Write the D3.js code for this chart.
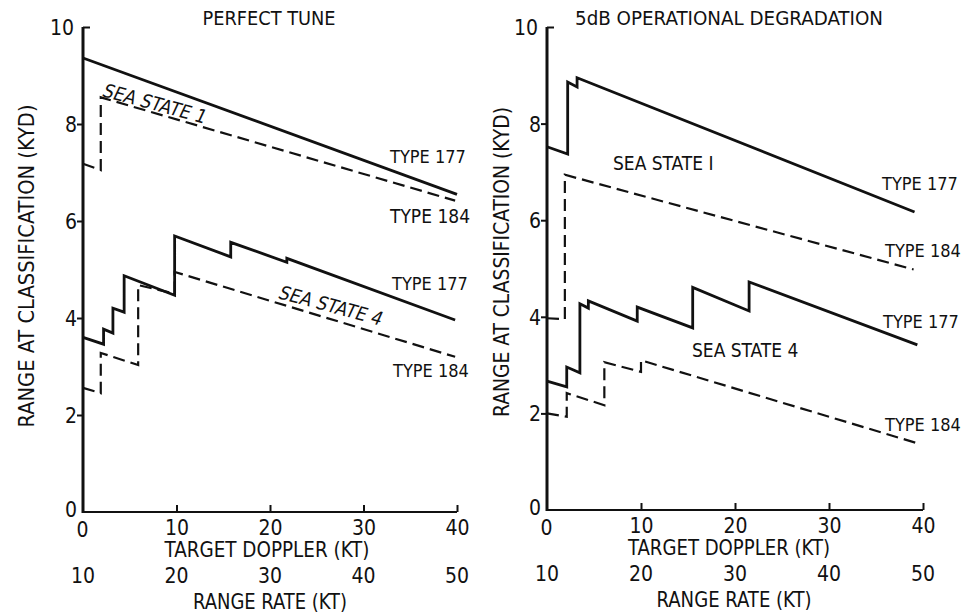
<!DOCTYPE html>
<html><head><meta charset="utf-8">
<script src="https://cdn.jsdelivr.net/npm/d3@7/dist/d3.min.js"></script>
<style>
body{margin:0;background:#fff}
text{font-family:"DejaVu Sans Condensed","Liberation Sans Narrow","Arial Narrow",sans-serif;fill:#111}
</style>
</head><body>
<svg id="c" width="968" height="616"></svg>
<script>
// ---------- data ----------
const dopplerTicks = [0, 10, 20, 30, 40];
const rangeRateTicks = [10, 20, 30, 40, 50];
const yTicks = [0, 2, 4, 6, 8, 10];
const panelTitles = ["PERFECT TUNE", "5dB OPERATIONAL DEGRADATION"];
const xAxisTitle = "TARGET DOPPLER (KT)";
const x2AxisTitle = "RANGE RATE (KT)";
const yAxisTitle = "RANGE AT CLASSIFICATION (KYD)";
const seriesNames = ["TYPE 177", "TYPE 184"];
const seaStateNames = ["SEA STATE 1", "SEA STATE 4"];
const seaStateNamesRight = ["SEA STATE I", "SEA STATE 4"];

// Perfect tune: [target doppler kt, range kyd]
const pt_ss1_177 = [[0,9.36],[40,6.55]];
const pt_ss1_184 = [[0,7.18],[1.9,7.05],[1.9,8.55],[39.8,6.42]];
const pt_ss4_177 = [[0,3.6],[2.2,3.46],[2.2,3.77],[3.2,3.69],[3.2,4.2],[4.4,4.12],[4.4,4.87],[9.8,4.47],[9.8,5.69],[15.8,5.26],[15.8,5.56],[21.8,5.15],[21.8,5.23],[39.8,3.96]];
const pt_ss4_184 = [[0,2.56],[1.9,2.45],[1.9,3.28],[5.9,3.03],[5.9,4.68],[9.8,4.5],[9.8,4.95],[39.8,3.2]];

// 5dB operational degradation
const od_ss1_177 = [[0,7.52],[2.2,7.37],[2.2,8.86],[3.2,8.76],[3.2,8.95],[39.1,6.17]];
const od_ss1_184 = [[0,3.97],[1.9,3.95],[1.9,6.94],[39,4.98]];
const od_ss4_177 = [[0,2.67],[2.1,2.55],[2.1,2.96],[3.5,2.84],[3.5,4.27],[4.4,4.18],[4.4,4.33],[9.6,3.91],[9.6,4.2],[15.5,3.77],[15.5,4.61],[21.5,4.12],[21.5,4.72],[39.4,3.42]];
const od_ss4_184 = [[0,2.0],[2.1,1.93],[2.1,2.42],[6.1,2.17],[6.1,3.06],[10,2.86],[10,3.1],[39.6,1.37]];

// ---------- drawing ----------
const svg = d3.select("#c");
svg.append("rect").attr("width",968).attr("height",616).attr("fill","#fff");

function fit(t, w){ if(w) t.attr("textLength",w).attr("lengthAdjust","spacingAndGlyphs"); return t; }

function panel(cfg){
  const x = d3.scaleLinear().domain([0,40]).range([cfg.x0, cfg.x1]);
  const y = d3.scaleLinear().domain([0,10]).range([cfg.y0, cfg.y1]);
  const g = svg.append("g");
  const fs = 21;

  // y axis
  const ya = g.append("g").attr("transform",`translate(${cfg.x0},0)`)
    .call(d3.axisLeft(y).tickValues(yTicks).tickSize(6).tickSizeOuter(0));
  ya.select(".domain").remove();
  ya.selectAll(".tick line").attr("stroke","#111").attr("stroke-width",2)
    .filter(d=>d===10).attr("x2",7);
  ya.selectAll(".tick line").filter(d=>d===0).remove();
  ya.selectAll(".tick text").attr("font-size",fs).attr("x",d=>d===0?-6:(d===10?-9:-6))
    .attr("dy",d=>d===0?"0.2em":"0.36em").attr("fill","#111")
    .attr("font-family","DejaVu Sans Condensed, sans-serif");

  // x axis
  const xa = g.append("g").attr("transform",`translate(0,${cfg.y0})`)
    .call(d3.axisBottom(x).tickValues(dopplerTicks).tickSizeInner(-7).tickSizeOuter(0));
  xa.select(".domain").remove();
  xa.selectAll(".tick line").attr("stroke","#111").attr("stroke-width",2);
  xa.selectAll(".tick line").filter(d=>d===0).remove();
  xa.selectAll(".tick text").attr("font-size",fs).attr("y",d=>d===0?25:23).attr("dy",0).attr("fill","#111")
    .attr("x",d=>d===0?-1:0).attr("font-family","DejaVu Sans Condensed, sans-serif");

  // axis lines
  g.append("line").attr("x1",x(0)).attr("x2",x(0)).attr("y1",y(0)+1).attr("y2",y(10))
    .attr("stroke","#111").attr("stroke-width",3);
  g.append("line").attr("x1",x(0)).attr("x2",x(40)).attr("y1",y(0)).attr("y2",y(0))
    .attr("stroke","#111").attr("stroke-width",2.2);

  // range-rate second scale (range rate = doppler + 10)
  g.selectAll(".rr").data(rangeRateTicks).join("text")
    .attr("x",d=>x(d-10)).attr("y",y(0)+71).attr("text-anchor","middle").attr("font-size",fs)
    .text(d=>d);

  // axis titles
  fit(g.append("text").attr("x",cfg.xt).attr("y",y(0)+45).attr("text-anchor","middle").attr("font-size",fs).text(xAxisTitle), cfg.xtw);
  fit(g.append("text").attr("x",cfg.xt2).attr("y",y(0)+97).attr("text-anchor","middle").attr("font-size",fs).text(x2AxisTitle), cfg.xt2w);
  fit(g.append("text").attr("transform",`translate(${cfg.yt},${cfg.ytc}) rotate(-90)`)
    .attr("text-anchor","middle").attr("font-size",fs).text(yAxisTitle), cfg.ytw);
  fit(g.append("text").attr("x",cfg.tx).attr("y",25).attr("text-anchor","middle").attr("font-size",20).text(cfg.title), cfg.tw);

  const line = d3.line().x(d=>x(d[0])).y(d=>y(d[1]));
  cfg.series.forEach(s=>{
    g.append("path").attr("d",line(s.data)).attr("fill","none").attr("stroke","#111")
      .attr("stroke-width",s.dash?2.2:2.8).attr("stroke-dasharray",s.dash?"12,6":null)
      .attr("stroke-linejoin","miter");
  });
  cfg.labels.forEach(l=>{
    const t = g.append("text").attr("font-size",l.fs||18).text(l.text);
    if(l.rot){
      t.attr("transform",`translate(${l.px},${l.py}) rotate(${l.rot}) skewX(-10)`);
    } else {
      t.attr("x",l.px).attr("y",l.py);
    }
  });
  return {x,y};
}

panel({
  x0:83, x1:457, y0:512, y1:27, xt:267, xt2:270, yt:34, ytc:266, tx:269,
  xtw:205, xt2w:154, ytw:323, tw:133,
  title:panelTitles[0],
  series:[
    {data:pt_ss1_177, dash:false},
    {data:pt_ss1_184, dash:true},
    {data:pt_ss4_177, dash:false},
    {data:pt_ss4_184, dash:true}
  ],
  labels:[
    {text:seriesNames[0], px:390, py:163},
    {text:seriesNames[1], px:390, py:223, fs:19},
    {text:seriesNames[0], px:392, py:290},
    {text:seriesNames[1], px:393, py:377},
    {text:seaStateNames[0], px:101, py:96, rot:15, fs:19},
    {text:seaStateNames[1], px:277, py:298, rot:15, fs:19}
  ]
});

panel({
  x0:547, x1:923, y0:510, y1:27, xt:729, xt2:734, yt:509, ytc:262, tx:729,
  xtw:202, xt2w:155, ytw:310, tw:308,
  title:panelTitles[1],
  series:[
    {data:od_ss1_177, dash:false},
    {data:od_ss1_184, dash:true},
    {data:od_ss4_177, dash:false},
    {data:od_ss4_184, dash:true}
  ],
  labels:[
    {text:seriesNames[0], px:882, py:190},
    {text:seriesNames[1], px:885, py:257},
    {text:seriesNames[0], px:883, py:328},
    {text:seriesNames[1], px:885, py:431},
    {text:seaStateNamesRight[0], px:613, py:170, fs:19},
    {text:seaStateNamesRight[1], px:692, py:357, fs:19}
  ]
});
</script>
</body></html>
